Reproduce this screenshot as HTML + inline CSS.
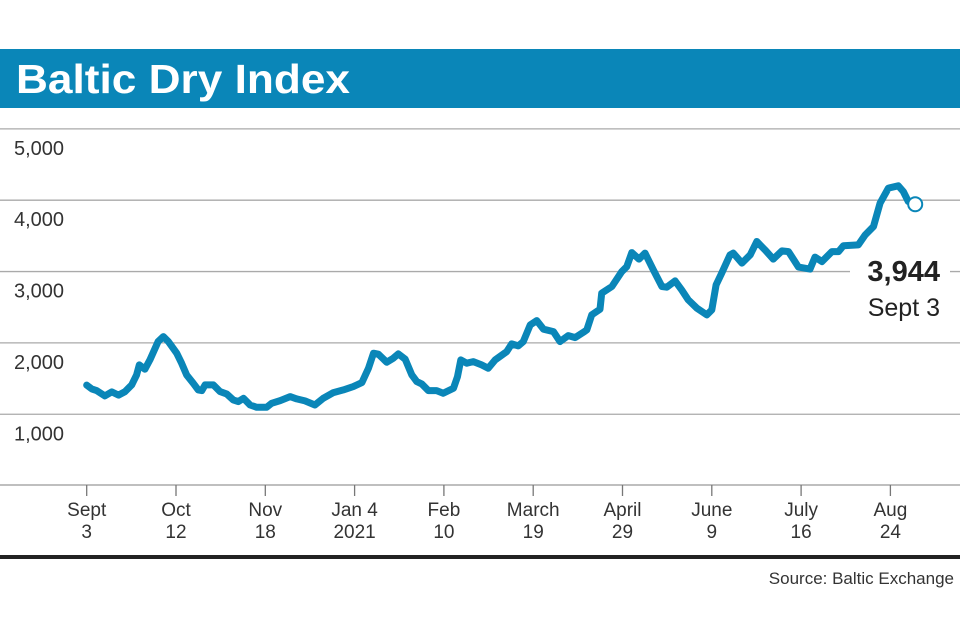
<!DOCTYPE html>
<html><head><meta charset="utf-8"><style>
html,body{margin:0;padding:0;background:#fff;}
svg{display:block;font-family:"Liberation Sans",sans-serif;}
</style></head><body>
<svg id="chart" width="960" height="640" viewBox="0 0 960 640">
<rect x="0" y="49" width="960" height="59" fill="#0a86b8"/>
<text x="16" y="93" fill="#fff" font-size="41" font-weight="bold" textLength="334" lengthAdjust="spacingAndGlyphs">Baltic Dry Index</text>
<g id="grid"></g>
<g id="yl"></g>
<g id="xa"></g>
<path id="line" fill="none" stroke="#0a86b8" stroke-width="7" stroke-linejoin="round" stroke-linecap="round"/>
<circle id="endpt" r="7" fill="#fff" stroke="#0a86b8" stroke-width="2"/>
<rect x="850" y="252" width="100" height="70" fill="#fff"/>
<text x="940" y="281" text-anchor="end" font-size="29" font-weight="bold" fill="#222">3,944</text>
<text x="940" y="316" text-anchor="end" font-size="25" fill="#222">Sept 3</text>
<rect x="0" y="555" width="960" height="4" fill="#222"/>
<text x="954" y="584" text-anchor="end" font-size="17" fill="#333">Source: Baltic Exchange</text>
</svg>
<script>
const yTicks=[1000,2000,3000,4000,5000];
const yTickLabels=["1,000","2,000","3,000","4,000","5,000"];
const xTickTop=["Sept","Oct","Nov","Jan 4","Feb","March","April","June","July","Aug"];
const xTickBottom=["3","12","18","2021","10","19","29","9","16","24"];
const xTickIdx=[0,27,54,81,108,135,162,189,216,243];
const dayIdx=[0,1.5,3,5.5,7.6,9.6,11.6,13.6,15.1,15.9,17.6,19.1,21.6,23.2,24.7,27.2,28.7,30.2,32.2,33.7,34.8,35.8,38.3,40.3,42.3,44.3,45.8,47.4,49.4,51.4,54.4,55.9,58.5,61.5,63.5,66,69,71.5,74.6,77.6,80.6,83.2,85.2,86.7,88.2,90.7,92.7,94.2,96.3,98.3,99.8,101.3,103.3,105.8,107.8,110.9,112.1,113.1,114.9,116.9,119.4,121.4,123.5,127,128.5,130.5,132,134.1,136.1,138.1,141.1,143.1,145.6,147.7,150.2,151.2,152.7,155.2,155.7,158.8,161.8,163.3,164.8,167,168.8,171.3,173.9,175.4,177.9,179.9,181.9,184.5,187.5,189,190.3,192,194.5,195.5,198.1,200.6,202.6,205.1,207.6,210.2,212.2,215.2,218.7,220.2,222.3,225.3,227.3,228.8,233.3,235.4,237.9,239.9,242.4,245.4,246.9,248.4,250.5];
const bdi=[1409,1355,1331,1257,1313,1269,1317,1411,1551,1691,1631,1762,2018,2088,2018,1855,1715,1551,1435,1341,1331,1411,1411,1317,1285,1201,1177,1224,1130,1098,1098,1154,1191,1247,1215,1187,1130,1224,1303,1341,1387,1443,1645,1855,1842,1729,1785,1846,1771,1551,1457,1425,1331,1331,1294,1365,1527,1762,1715,1738,1691,1645,1762,1878,1986,1958,2018,2252,2313,2192,2158,2018,2102,2074,2150,2182,2393,2473,2697,2790,3000,3070,3266,3174,3258,3024,2790,2781,2869,2743,2603,2487,2393,2463,2813,2978,3234,3258,3118,3234,3421,3304,3174,3290,3280,3062,3034,3202,3140,3280,3280,3361,3374,3515,3631,3959,4170,4202,4122,3982,3944];

const NS="http://www.w3.org/2000/svg";
const x=i=>86.7+i*(89.3/27);
const y=v=>485.6-v*0.07135;
function mk(tag,attrs,parent,txt){const e=document.createElementNS(NS,tag);for(const k in attrs)e.setAttribute(k,attrs[k]);if(txt!==undefined)e.textContent=txt;parent.appendChild(e);return e;}
const grid=document.getElementById('grid'),yl=document.getElementById('yl'),xa=document.getElementById('xa');
yTicks.forEach((v,i)=>{
  const l=mk('line',{x1:0,x2:960,y1:y(v),y2:y(v),stroke:'#aaa','stroke-width':1.3},grid);
  
  
  const t=mk('text',{x:14,y:y(v)+26,'font-size':20,fill:'#333'},yl,yTickLabels[i]);
  
  
});
const ax=mk('line',{x1:0,x2:960,y1:485,y2:485,stroke:'#999','stroke-width':1.3},xa);


xTickIdx.forEach((d,i)=>{
  const tk=mk('line',{x1:x(d),x2:x(d),y1:485,y2:496,stroke:'#777','stroke-width':1.3},xa);
  
  
  const t1=mk('text',{x:x(d),y:516,'text-anchor':'middle','font-size':19,fill:'#333'},xa,xTickTop[i]);
  
  
  const t2=mk('text',{x:x(d),y:538,'text-anchor':'middle','font-size':19,fill:'#333'},xa,xTickBottom[i]);
  
  
});
document.getElementById('line').setAttribute('d',dayIdx.map((d,i)=>(i?'L':'M')+x(d).toFixed(1)+','+y(bdi[i]).toFixed(1)).join(''));
const n=dayIdx.length-1,ep=document.getElementById('endpt');
ep.setAttribute('cx',x(dayIdx[n]));ep.setAttribute('cy',y(bdi[n]));
</script>
</body></html>
